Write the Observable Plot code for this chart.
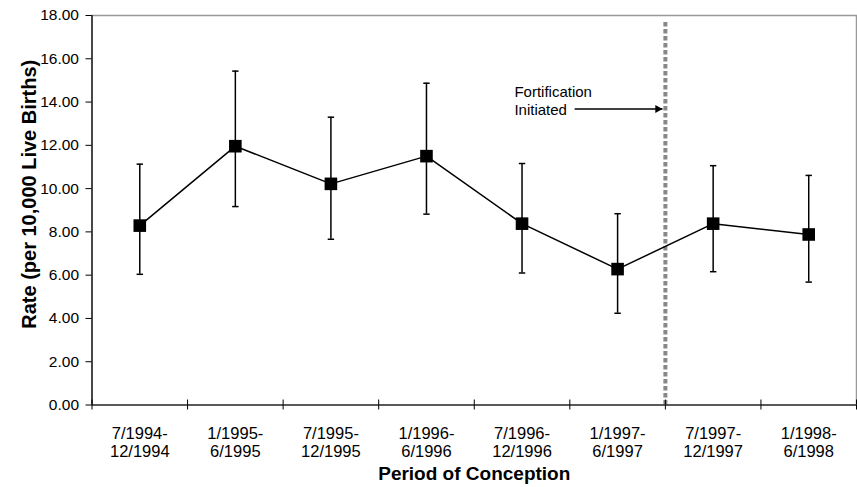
<!DOCTYPE html>
<html><head><meta charset="utf-8">
<script src="https://cdn.jsdelivr.net/npm/d3@7"></script>
<script src="https://cdn.jsdelivr.net/npm/@observablehq/plot@0.6"></script>
<style>body{margin:0;background:#fff} svg{display:block}</style>
</head><body><div id="chart"></div>
<script>
// Data
const periods = ["7/1994-\n12/1994", "1/1995-\n6/1995", "7/1995-\n12/1995", "1/1996-\n6/1996",
                 "7/1996-\n12/1996", "1/1997-\n6/1997", "7/1997-\n12/1997", "1/1998-\n6/1998"];
const rates = [8.29, 11.96, 10.22, 11.50, 8.38, 6.28, 8.38, 7.88];
const lower = [6.04, 9.17, 7.66, 8.82, 6.10, 4.24, 6.16, 5.68];
const upper = [11.13, 15.43, 13.30, 14.87, 11.16, 8.84, 11.06, 10.61];
const yTicks = [0, 2, 4, 6, 8, 10, 12, 14, 16, 18];
const yTitle = "Rate (per 10,000 Live Births)";
const xTitle = "Period of Conception";
const fortification = {label: "Fortification\nInitiated", x: 5.5, top: 17.7,
                       textX: 3.92, textY: 14.1, arrowFrom: 4.55, arrowTo: 5.47, arrowY: 13.68};

const data = periods.map((p, i) => ({i, period: p, rate: rates[i], lo: lower[i], hi: upper[i]}));
const bounds = d3.range(-0.5, periods.length, 1);
const fmt = d3.format(".2f");

const capSymbol = {draw(ctx, size) { const r = Math.sqrt(size / Math.PI); ctx.moveTo(-r, 0); ctx.lineTo(r, 0); }};
const squareSymbol = {draw(ctx, size) { const r = Math.sqrt(size / Math.PI); ctx.rect(-r, -r, 2 * r, 2 * r); }};
const headSymbol = {draw(ctx, size) { const r = Math.sqrt(size / Math.PI); ctx.moveTo(0, 0); ctx.lineTo(-1.8 * r, -r); ctx.lineTo(-1.8 * r, r); ctx.closePath(); }};

const chart = Plot.plot({
  width: 857, height: 487,
  marginLeft: 91.5, marginRight: 1, marginTop: 15, marginBottom: 82.5,
  style: {fontFamily: "'Liberation Sans', Arial, sans-serif", fontSize: "15px", background: "#fff", color: "#000"},
  x: {type: "linear", domain: [-0.5, periods.length - 0.5]},
  y: {domain: [0, 18]},
  marks: [
    Plot.frame({stroke: "#999", strokeWidth: 1.5}),
    Plot.ruleX([fortification], {x: "x", y1: 0, y2: "top", stroke: "#888", strokeWidth: 4, strokeDasharray: "4.5,2.5"}),
    Plot.axisY({ticks: yTicks, tickFormat: () => "", tickSize: 6, label: null}),
    Plot.text(yTicks, {y: d => d, text: d => fmt(d), frameAnchor: "left", textAnchor: "end", lineAnchor: "middle", dx: -13, fontSize: 15.5}),
    Plot.axisX({ticks: bounds, tickFormat: () => "", tickSize: 5, label: null}),
    Plot.axisX({ticks: bounds, tickFormat: () => "", tickSize: -5, label: null}),
    Plot.ruleX([-0.5], {strokeWidth: 1.2}),
    Plot.ruleY([0], {strokeWidth: 1.2}),
    Plot.text(data, {x: "i", text: "period", frameAnchor: "bottom", lineAnchor: "middle", textAnchor: "middle", dy: 37, lineHeight: 1.13, fontSize: 16.5}),
    Plot.text([xTitle], {text: d => d, frameAnchor: "bottom", lineAnchor: "middle", textAnchor: "middle", dy: 68.5, fontWeight: "bold", fontSize: 19}),
    Plot.text([yTitle], {text: d => d, frameAnchor: "left", lineAnchor: "middle", textAnchor: "middle", rotate: -90, dx: -62, dy: -16, fontWeight: "bold", fontSize: 20}),
    Plot.text([fortification], {x: "textX", y: "textY", text: "label", textAnchor: "start", lineHeight: 1.23, fontSize: 15}),
    Plot.link([fortification], {x1: "arrowFrom", x2: "arrowTo", y1: "arrowY", y2: "arrowY", stroke: "#000", strokeWidth: 1.5}),
    Plot.dot([fortification], {x: "arrowTo", y: "arrowY", symbol: headSymbol, r: 4, fill: "#000", stroke: "none"}),
    Plot.ruleX(data, {x: "i", y1: "lo", y2: "hi", stroke: "#000", strokeWidth: 1.5}),
    Plot.dot(data, {x: "i", y: "lo", symbol: capSymbol, r: 3.2, stroke: "#000", strokeWidth: 1.5, fill: "none"}),
    Plot.dot(data, {x: "i", y: "hi", symbol: capSymbol, r: 3.2, stroke: "#000", strokeWidth: 1.5, fill: "none"}),
    Plot.line(data, {x: "i", y: "rate", stroke: "#000", strokeWidth: 1.5}),
    Plot.dot(data, {x: "i", y: "rate", symbol: squareSymbol, r: 6.3, fill: "#000", stroke: "none"})
  ]
});
document.getElementById("chart").append(chart);
</script>
</body></html>
